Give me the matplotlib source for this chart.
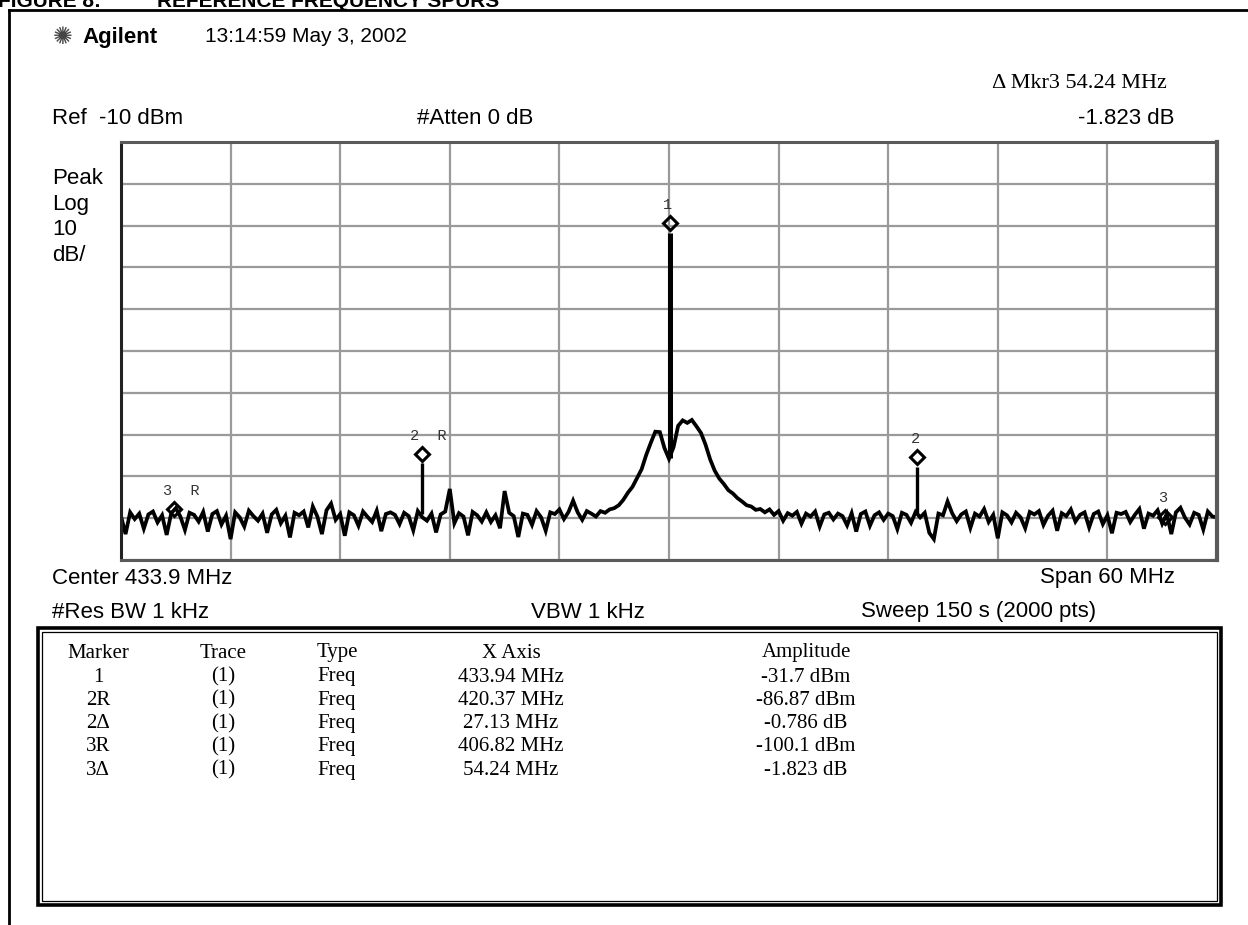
import numpy as np
import matplotlib
matplotlib.use("Agg")
import matplotlib.pyplot as plt
from matplotlib.lines import Line2D
from matplotlib.patches import Rectangle
from matplotlib import transforms

# analyzer settings
center_mhz = 433.9
span_mhz = 60.0
ref_dbm = -10.0
db_per_div = 10.0

# swept trace, 0.25 MHz steps from 403.9 to 463.9 MHz (dBm)
trace_dbm = [
    -99.5, -103.8, -98.6, -100.2, -98.9, -102.5, -99.1, -98.4, -101.0, -99.3,
    -104.0, -98.8, -97.6, -99.6, -102.8, -98.7, -99.2, -100.8, -98.5, -103.2,
    -99.0, -98.3, -101.5, -99.4, -105.0, -98.6, -99.8, -102.0, -98.2, -99.5,
    -100.6, -98.9, -103.5, -99.1, -98.0, -101.2, -99.4, -104.6, -98.7, -99.3,
    -98.4, -102.2, -97.2, -99.6, -103.8, -98.1, -96.5, -100.4, -99.0, -104.2,
    -98.6, -99.3, -101.8, -98.4, -99.7, -100.9, -98.2, -103.1, -99.0, -98.6,
    -99.2, -101.4, -98.7, -99.5, -102.9, -98.3, -99.8, -100.6, -98.9, -103.4,
    -99.1, -98.4, -93.0, -101.2, -98.8, -99.6, -104.1, -98.5, -99.3, -100.8,
    -98.6, -100.9, -99.3, -102.4, -93.5, -98.7, -99.5, -104.5, -98.9, -99.2,
    -101.6, -98.3, -99.8, -103.0, -98.6, -99.0, -97.9, -100.2, -98.5, -95.8,
    -98.6, -100.4, -98.3, -98.9, -99.6, -98.3, -98.7, -97.9, -97.6, -96.9,
    -95.6, -93.9, -92.5, -90.4, -88.3, -84.9, -82.0, -79.3, -79.4, -83.2,
    -85.8, -83.0, -77.9, -76.6, -77.2, -76.5, -78.0, -79.6, -82.4, -85.9,
    -88.6, -90.5, -91.8, -93.3, -94.1, -95.2, -96.0, -96.9, -97.2, -98.0,
    -97.8, -98.6, -97.9, -99.2, -98.3, -100.6, -98.8, -99.4, -98.5, -101.3,
    -98.9, -99.6, -98.4, -102.0, -99.1, -98.7, -100.3, -98.9, -99.5, -101.7,
    -98.8, -103.2, -99.0, -98.4, -101.8, -99.3, -98.6, -100.4, -98.9, -99.5,
    -102.6, -98.7, -99.2, -101.1, -98.5, -99.8, -98.7, -103.5, -105.0, -98.9,
    -99.3, -96.0, -98.8, -100.7, -99.1, -98.4, -102.3, -98.9, -99.6, -97.8,
    -100.9, -99.2, -104.8, -98.6, -99.3, -101.0, -98.7, -99.8, -102.4, -98.5,
    -99.1, -98.3, -101.6, -99.4, -98.2, -103.0, -98.8, -99.5, -97.9, -100.8,
    -99.2, -98.6, -102.2, -99.0, -98.4, -101.4, -99.3, -103.6, -98.7, -99.0,
    -98.5, -100.9, -99.2, -97.8, -102.5, -98.9, -99.4, -98.1, -101.3, -99.0,
    -103.8, -98.6, -97.5, -99.9, -101.5, -98.7, -99.2, -102.7, -98.4, -99.6,
    -99.8,
]

# narrow spurs / carrier drawn on top of the trace
spur_mhz = [420.37, 433.94, 447.50]
spur_top = [-86.87, -31.7, -87.66]
spur_base = [-99.0, -85.6, -99.0]
spur_width = [2.4, 3.6, 2.4]

# marker table
mkr_names = ["1", "2R", "2\u0394", "3R", "3\u0394"]
mkr_trace = ["(1)", "(1)", "(1)", "(1)", "(1)"]
mkr_type = ["Freq", "Freq", "Freq", "Freq", "Freq"]
mkr_x = [433.94, 420.37, 27.13, 406.82, 54.24]
mkr_amp = [-31.7, -86.87, -0.786, -100.1, -1.823]
mkr_is_delta = [False, False, True, False, True]
mkr_ref = [None, None, 1, None, 3]     # index of the reference marker
mkr_tag = ["1", "2  R", "2", "3  R", "3"]

W, H = 1248, 925
fig = plt.figure(figsize=(W / 100, H / 100), dpi=100)
SANS = "Liberation Sans"
SERIF = "Liberation Serif"


def ftxt(x, y, s, **kw):
    kw.setdefault("family", SANS)
    kw.setdefault("fontsize", 16)
    kw.setdefault("va", "center")
    return fig.text(x / W, 1 - y / H, s, **kw)


# outer page frame and caption (clipped at the page top, as in the scan)
fig.add_artist(Line2D([9 / W, 9 / W], [0, 1 - 10 / H], color="black", lw=2))
fig.add_artist(Line2D([9 / W, 1], [1 - 10 / H, 1 - 10 / H], color="black", lw=2))
ftxt(-2, 7, "FIGURE 8:", fontsize=15, weight="bold", va="baseline")
ftxt(157, 7, "REFERENCE FREQUENCY SPURS", fontsize=15, weight="bold", va="baseline")

# header lines
ftxt(63, 37, "\u273a", family="DejaVu Sans", fontsize=17, ha="center", color="#444444")
ftxt(82, 37, "Agilent", weight="bold", fontsize=16)
ftxt(205, 37, "13:14:59 May 3, 2002", fontsize=15)
ftxt(1167, 83, "\u0394 Mkr3 %.2f MHz" % mkr_x[4], family=SERIF, fontsize=16, ha="right")
ftxt(52, 118, "Ref  %d dBm" % ref_dbm)
ftxt(417, 118, "#Atten 0 dB")
ftxt(1175, 118, "%.3f dB" % mkr_amp[4], ha="right")
for k, s in enumerate(["Peak", "Log", "%d" % db_per_div, "dB/"]):
    ftxt(52, 184 + 25.7 * k, s, va="baseline")
ftxt(52, 578, "Center %.1f MHz" % center_mhz)
ftxt(1175, 578, "Span %d MHz" % span_mhz, ha="right")
ftxt(52, 612, "#Res BW 1 kHz")
ftxt(588, 612, "VBW 1 kHz", ha="center")
ftxt(979, 612, "Sweep 150 s (2000 pts)", ha="center")

# spectrum display
ax = fig.add_axes([121 / W, 1 - 560 / H, 1096 / W, 418 / H])
f0 = center_mhz - span_mhz / 2
f1 = center_mhz + span_mhz / 2
y_bot = ref_dbm - 10 * db_per_div
ax.set_xlim(f0, f1)
ax.set_ylim(y_bot, ref_dbm)
ax.set_xticks(np.linspace(f0, f1, 11))
ax.set_yticks(np.linspace(y_bot, ref_dbm, 11))
ax.tick_params(length=0, labelbottom=False, labelleft=False)
ax.grid(True, color="#9a9a9a", lw=1.6)
ax.set_axisbelow(True)
for side, sp in ax.spines.items():
    sp.set_color("#5a5a5a")
    sp.set_linewidth(2.2)
ax.spines["left"].set_color("#222222")
ax.spines["right"].set_linewidth(3)

freq = np.linspace(f0, f1, len(trace_dbm))
ax.plot(freq, trace_dbm, color="black", lw=2.7, solid_joinstyle="miter")
for f, top, base, lw in zip(spur_mhz, spur_top, spur_base, spur_width):
    ax.vlines(f, base, top, color="black", lw=lw)

# marker positions (delta markers are relative to their reference)
mk_f, mk_a = [], []
for i in range(len(mkr_x)):
    if mkr_is_delta[i]:
        r = mkr_ref[i]
        mk_f.append(mkr_x[r] + mkr_x[i])
        mk_a.append(mkr_amp[r] + mkr_amp[i])
    else:
        mk_f.append(mkr_x[i])
        mk_a.append(mkr_amp[i])

dia_tr = transforms.offset_copy(ax.transData, fig=fig, y=7, units="points")
ax.plot(mk_f, mk_a, ls="none", marker="D", ms=7, mew=2.2,
        mec="black", mfc="none", transform=dia_tr)
for f, a, tag in zip(mk_f, mk_a, mkr_tag):
    if "R" in tag:
        ax.annotate(tag, (f, a), xytext=(-8.4, 20), textcoords="offset points",
                    ha="left", va="center", family="Liberation Mono",
                    fontsize=11, color="#333333")
    else:
        ax.annotate(tag, (f, a), xytext=(-1.5, 20), textcoords="offset points",
                    ha="center", va="center", family="Liberation Mono",
                    fontsize=11, color="#333333")

# marker table box
fig.add_artist(Rectangle((38 / W, 1 - 905 / H), 1183 / W, 277 / H, fill=False,
                         lw=2.6, ec="black", transform=fig.transFigure))
fig.add_artist(Rectangle((42 / W, 1 - 901 / H), 1175 / W, 269 / H, fill=False,
                         lw=0.9, ec="black", transform=fig.transFigure))

col_x = [98, 223, 317, 511, 806]
col_ha = ["center", "center", "left", "center", "center"]
headers = ["Marker", "Trace", "Type", "X Axis", "Amplitude"]
rows = []
for i in range(len(mkr_names)):
    unit = "dB" if mkr_is_delta[i] else "dBm"
    amp = ("%g" % mkr_amp[i])
    rows.append([mkr_names[i], mkr_trace[i], mkr_type[i],
                 "%.2f MHz" % mkr_x[i], "%s %s" % (amp, unit)])
for j, h in enumerate(headers):
    ftxt(col_x[j], 653, h, family=SERIF, fontsize=15, ha=col_ha[j])
for i, row in enumerate(rows):
    for j, s in enumerate(row):
        ftxt(col_x[j], 677 + 23.3 * i, s, family=SERIF, fontsize=15, ha=col_ha[j])

fig.savefig("out.png", dpi=100)
